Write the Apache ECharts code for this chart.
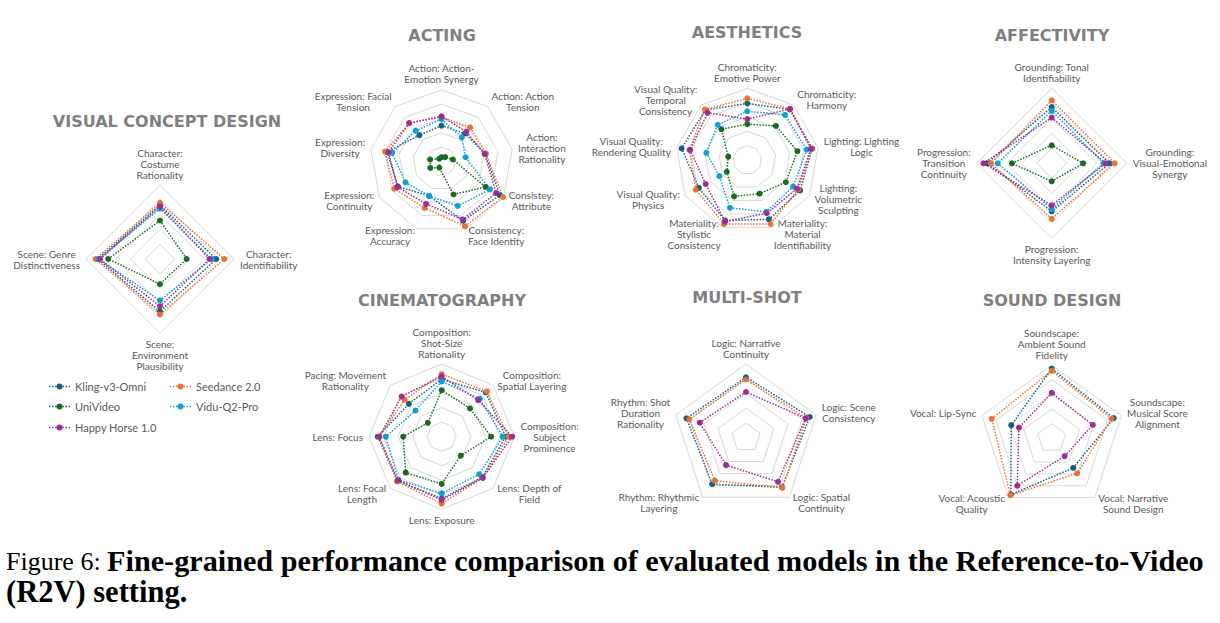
<!DOCTYPE html>
<html><head><meta charset="utf-8">
<script src="https://cdn.jsdelivr.net/npm/echarts@6/dist/echarts.min.js"></script>
<style>html,body{margin:0;padding:0;background:#fff}#c{width:1220px;height:623px}</style>
</head><body><div id="c"></div>
<script>
// ---------- data ----------
const models = ['Kling-v3-Omni', 'Seedance 2.0', 'UniVideo', 'Vidu-Q2-Pro', 'Happy Horse 1.0'];

// axes are listed clockwise from the top, as in the figure
const vcdAxes = ['Character:\nCostume\nRationality', 'Character:\nIdentifiability', 'Scene:\nEnvironment\nPlausibility', 'Scene: Genre\nDistinctiveness'];
const vcdKling    = [73, 76, 71, 84];
const vcdSeedance = [76, 87, 75, 87];
const vcdUniVideo = [52, 36, 34, 70];
const vcdVidu     = [68, 70, 56, 83];
const vcdHappy    = [71, 67, 64, 81];

const actAxes = ['Action: Action-\nEmotion Synergy', 'Action: Action\nTension', 'Action:\nInteraction\nRationality', 'Consistey:\nAttribute', 'Consistency:\nFace Identity', 'Expression:\nAccuracy', 'Expression:\nContinuity', 'Expression:\nDiversity', 'Expression: Facial\nTension'];
const actKling    = [50, 51, 62, 94, 88, 51, 70, 77, 48];
const actSeedance = [62, 62, 63, 99, 96, 69, 76, 80, 70];
const actUniVideo = [6, 8, 16, 71, 49, 9, 18, 16, 5];
const actVidu     = [59, 44, 34, 78, 66, 51, 58, 70, 56];
const actHappy    = [63, 54, 61, 88, 86, 63, 71, 75, 70];

const aesAxes = ['Chromaticity:\nEmotive Power', 'Chromaticity:\nHarmony', 'Lighting: Lighting\nLogic', 'Lighting:\nVolumetric\nSculpting', 'Materiality:\nMaterial\nIdentifiability', 'Materiality:\nStylistic\nConsistency', 'Visual Quality:\nPhysics', 'Visual Quality:\nRendering Quality', 'Visual Quality:\nTemporal\nConsistency'];
const aesKling    = [79, 92, 92, 85, 88, 90, 78, 93, 91];
const aesSeedance = [86, 93, 91, 82, 95, 95, 83, 82, 92];
const aesUniVideo = [50, 62, 71, 62, 50, 54, 33, 27, 56];
const aesVidu     = [68, 82, 84, 74, 77, 71, 45, 58, 64];
const aesHappy    = [57, 93, 90, 80, 79, 91, 67, 81, 86];

const affAxes = ['Grounding: Tonal\nIdentifiability', 'Grounding:\nVisual-Emotional\nSynergy', 'Progression:\nIntensity Layering', 'Progression:\nTransition\nContinuity'];
const affKling    = [75, 77, 64, 86];
const affSeedance = [84, 84, 74, 81];
const affUniVideo = [24, 42, 24, 53];
const affVidu     = [70, 69, 61, 72];
const affHappy    = [61, 72, 56, 91];

const cinAxes = ['Composition:\nShot-Size\nRationality', 'Composition:\nSpatial Layering', 'Composition:\nSubject\nProminence', 'Lens: Depth of\nField', 'Lens: Exposure', 'Lens: Focal\nLength', 'Lens: Focus', 'Pacing: Movement\nRationality'];
const cinKling    = [79, 86, 88, 79, 85, 86, 88, 64];
const cinSeedance = [86, 88, 92, 80, 92, 87, 86, 72];
const cinUniVideo = [64, 55, 68, 37, 65, 70, 53, 27];
const cinVidu     = [76, 74, 84, 73, 78, 84, 77, 51];
const cinHappy    = [83, 71, 97, 80, 87, 85, 86, 78];

const msAxes = ['Logic: Narrative\nContinuity', 'Logic: Scene\nConsistency', 'Logic: Spatial\nContinuity', 'Rhythm: Rhythmic\nLayering', 'Rhythm: Shot\nDuration\nRationality'];
const msKling    = [82, 91, 83, 78, 85];
const msSeedance = [79, 86, 84, 72, 81];
const msHappy    = [62, 85, 74, 46, 66];

const sndAxes = ['Soundscape:\nAmbient Sound\nFidelity', 'Soundscape:\nMusical Score\nAlignment', 'Vocal: Narrative\nSound Design', 'Vocal: Acoustic\nQuality', 'Vocal: Lip-Sync'];
const sndKling    = [95, 89, 50, 95, 58];
const sndSeedance = [92, 86, 59, 96, 86];
const sndHappy    = [62, 59, 30, 80, 47];

const captionLead = 'Figure 6: ';
const captionLine1 = 'Fine-grained performance comparison of evaluated models in the Reference-to-Video';
const captionLine2 = '(R2V) setting.';

// ---------- layout / style ----------
const colors = ['#156082', '#E97132', '#196B24', '#0F9ED5', '#A02B93'];
const panels = [
  { title: 'VISUAL CONCEPT DESIGN', axes: vcdAxes, vals: [vcdKling, vcdSeedance, vcdUniVideo, vcdVidu, vcdHappy], cx: 160, cy: 259, r: 74, tx: 167, ty: 121 },
  { title: 'ACTING', axes: actAxes, vals: [actKling, actSeedance, actUniVideo, actVidu, actHappy], cx: 441.5, cy: 161.5, r: 71.7, tx: 442, ty: 35.5 },
  { title: 'AESTHETICS', axes: aesAxes, vals: [aesKling, aesSeedance, aesUniVideo, aesVidu, aesHappy], cx: 747.3, cy: 160, r: 71.7, tx: 747, ty: 32 },
  { title: 'AFFECTIVITY', axes: affAxes, vals: [affKling, affSeedance, affUniVideo, affVidu, affHappy], cx: 1051.7, cy: 163.3, r: 75, tx: 1052, ty: 35.5 },
  { title: 'CINEMATOGRAPHY', axes: cinAxes, vals: [cinKling, cinSeedance, cinUniVideo, cinVidu, cinHappy], cx: 441.7, cy: 436.7, r: 72.7, tx: 442, ty: 300.5 },
  { title: 'MULTI-SHOT', axes: msAxes, vals: [msKling, msSeedance, null, null, msHappy], cx: 746, cy: 437.7, r: 73.7, tx: 747, ty: 297 },
  { title: 'SOUND DESIGN', axes: sndAxes, vals: [sndKling, sndSeedance, null, null, sndHappy], cx: 1051.7, cy: 438.3, r: 73.3, tx: 1052, ty: 300.5 }
];

// ECharts lays radar indicators out counter-clockwise; reorder so the figure's clockwise order is kept
const ccw = arr => [arr[0]].concat(arr.slice(1).reverse());

const labelFont = '10px Lato';
const mctx = document.createElement('canvas').getContext('2d');
mctx.font = labelFont;
const textWidth = s => Math.max.apply(null, s.split('\n').map(l => mctx.measureText(l).width));

const radars = [], series = [], graphics = [];
panels.forEach((p, pi) => {
  radars.push({
    center: [p.cx, p.cy], radius: p.r, startAngle: 90, shape: 'polygon', splitNumber: 5,
    indicator: ccw(p.axes).map(n => ({ name: n, min: 0, max: 100 })),
    axisName: { show: false },
    axisLine: { show: false }, axisTick: { show: false }, axisLabel: { show: false },
    splitLine: { lineStyle: { color: '#d9d9d9', width: 1 } },
    splitArea: { show: false }
  });
  p.vals.forEach((v, mi) => {
    if (!v) return;
    series.push({
      type: 'radar', radarIndex: pi, name: models[mi], symbol: 'circle', symbolSize: 6,
      lineStyle: { type: 'dotted', width: 1.5, color: colors[mi] },
      itemStyle: { color: colors[mi] },
      emphasis: { disabled: true },
      data: [{ value: ccw(v), name: models[mi] }]
    });
  });
  graphics.push({
    type: 'text', x: p.tx, y: p.ty, silent: true,
    style: { text: p.title, fill: '#7f7f7f', font: 'bold 16px "DejaVu Sans"', align: 'center', verticalAlign: 'middle' }
  });
  const n = p.axes.length;
  p.axes.forEach((name, i) => {
    const th = 2 * Math.PI * i / n;
    const s = Math.sin(th), c = Math.cos(th);
    const vx = p.cx + p.r * s, vy = p.cy - p.r * c;
    let x, y, va;
    if (Math.abs(s) < 0.05) {
      x = vx;
      if (c > 0) { y = vy - 5; va = 'bottom'; } else { y = vy + 5; va = 'top'; }
    } else {
      const w = textWidth(name);
      const gap = 6 * Math.abs(s);
      x = s > 0 ? vx + gap + w / 2 : vx - gap - w / 2;
      y = vy - c * 7; va = 'middle';
    }
    graphics.push({
      type: 'text', x: x, y: y, silent: true,
      style: { text: name, fill: '#595959', font: labelFont, align: 'center', verticalAlign: va, lineHeight: 11 }
    });
  });
});

// caption
graphics.push({
  type: 'text', x: 6, y: 561, silent: true,
  style: {
    text: '{n|' + captionLead + '}{b|' + captionLine1 + '}', align: 'left', verticalAlign: 'middle',
    rich: {
      n: { fontFamily: 'Liberation Serif', fontSize: 26, fill: '#000' },
      b: { fontFamily: 'Liberation Serif', fontSize: 30.2, fontWeight: 'bold', fill: '#000' }
    }
  }
});
graphics.push({
  type: 'text', x: 6, y: 592, silent: true,
  style: { text: captionLine2, font: 'bold 30.5px "Liberation Serif"', fill: '#000', align: 'left', verticalAlign: 'middle' }
});

// legend: two columns, one legend component per entry
const icon = 'path://M0,2.3h1.4v1.4h-1.4z M3,2.3h1.4v1.4h-1.4z M6,2.3h1.4v1.4h-1.4z M13.6,2.3h1.4v1.4h-1.4z M16.6,2.3h1.4v1.4h-1.4z M19.6,2.3h1.4v1.4h-1.4z M7.5,3a3,3 0 1,0 6,0a3,3 0 1,0 -6,0z';
const legendSpots = [[49, 381], [170, 381], [49, 401], [170, 401], [49, 422]];
const legends = models.map((m, i) => ({
  orient: 'horizontal', left: legendSpots[i][0], top: legendSpots[i][1], padding: 0,
  itemWidth: 21, itemHeight: 6, icon: icon, selectedMode: false,
  textStyle: { fontFamily: 'Lato', fontSize: 11, color: '#595959' },
  data: [m]
}));

const chart = echarts.init(document.getElementById('c'), null, { renderer: 'svg' });
chart.setOption({
  backgroundColor: '#ffffff',
  animation: false,
  legend: legends,
  radar: radars,
  series: series,
  graphic: graphics
});
</script>
</body></html>
